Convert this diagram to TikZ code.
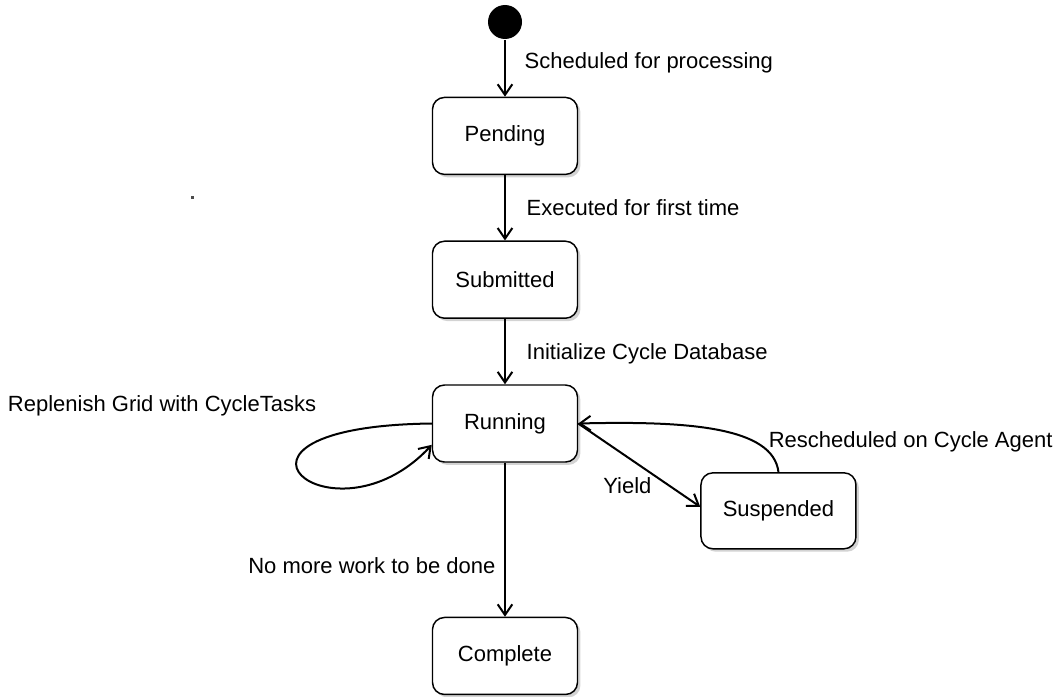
\documentclass[tikz,border=0pt]{standalone}
\usepackage{fontspec}
\setmainfont{Liberation Sans}
\usepackage{tikz}
\usetikzlibrary{positioning,arrows.meta,shadows}

\begin{document}
\begin{tikzpicture}[>={Straight Barb[length=8pt,width=11pt]},line width=1.5pt,
    font=\fontsize{16.5}{19}\selectfont,
    state/.style={draw,line width=1.1pt,rounded corners=9pt,fill=white,
        minimum width=108.75pt,minimum height=57.75pt,align=center,
        drop shadow={shadow xshift=2.2pt,shadow yshift=-2.2pt,opacity=0.35}},
    trans/.style={inner sep=2pt}]
        \useasboundingbox (-378.75pt,16.5pt) rectangle (412.5pt,-505.5pt);
        \node[circle,fill=black,inner sep=0pt,minimum size=25.5pt] (init) at (0,0) {};
        \node[state,below=42.5pt of init] (pend) {Pending};
        \node[state,below=49pt of pend] (sub) {Submitted};
        \node[state,below=49pt of sub] (run) {Running};
        \node[state,minimum width=116.25pt,minimum height=57pt,below right=7pt and 91.5pt of run] (susp) {Suspended};
        \node[state,below=115.5pt of run] (comp) {Complete};
        % transitions down the main line
        \draw[->] (init) -- node[trans,pos=0.4,right=12pt] {Scheduled for processing} (pend);
        \draw[->] (pend) -- node[trans,midway,right=13.5pt] {Executed for first time} (sub);
        \draw[->] (sub) -- node[trans,pos=0.54,right=13.5pt] {Initialize Cycle Database} (run);
        \draw[->] (run) -- node[trans,pos=0.67,left=4.5pt] {No more work to be done} (comp);
        % self loop on the running state
        \draw[->] (run.west) .. controls +(-186pt,-2.25pt) and +(-74pt,-80pt) .. ([yshift=-16pt]run.west)
            node[trans,pos=0,anchor=east,xshift=-84pt,yshift=13pt] {Replenish Grid with CycleTasks};
        % yield and back
        \draw[->] (run.east) -- node[trans,pos=0.6,below,xshift=-18pt] {Yield} ([yshift=3pt]susp.west);
        \draw[->] (susp.north) .. controls +(-4pt,34pt) and +(82pt,2pt) .. (run.east)
            node[trans,pos=0,anchor=south west,xshift=-10pt,yshift=12pt] {Rescheduled on Cycle Agent};
        \fill[black!70] (-235.5pt,-130.5pt) rectangle ++(2pt,-2pt);
    \end{tikzpicture}
\end{document}
